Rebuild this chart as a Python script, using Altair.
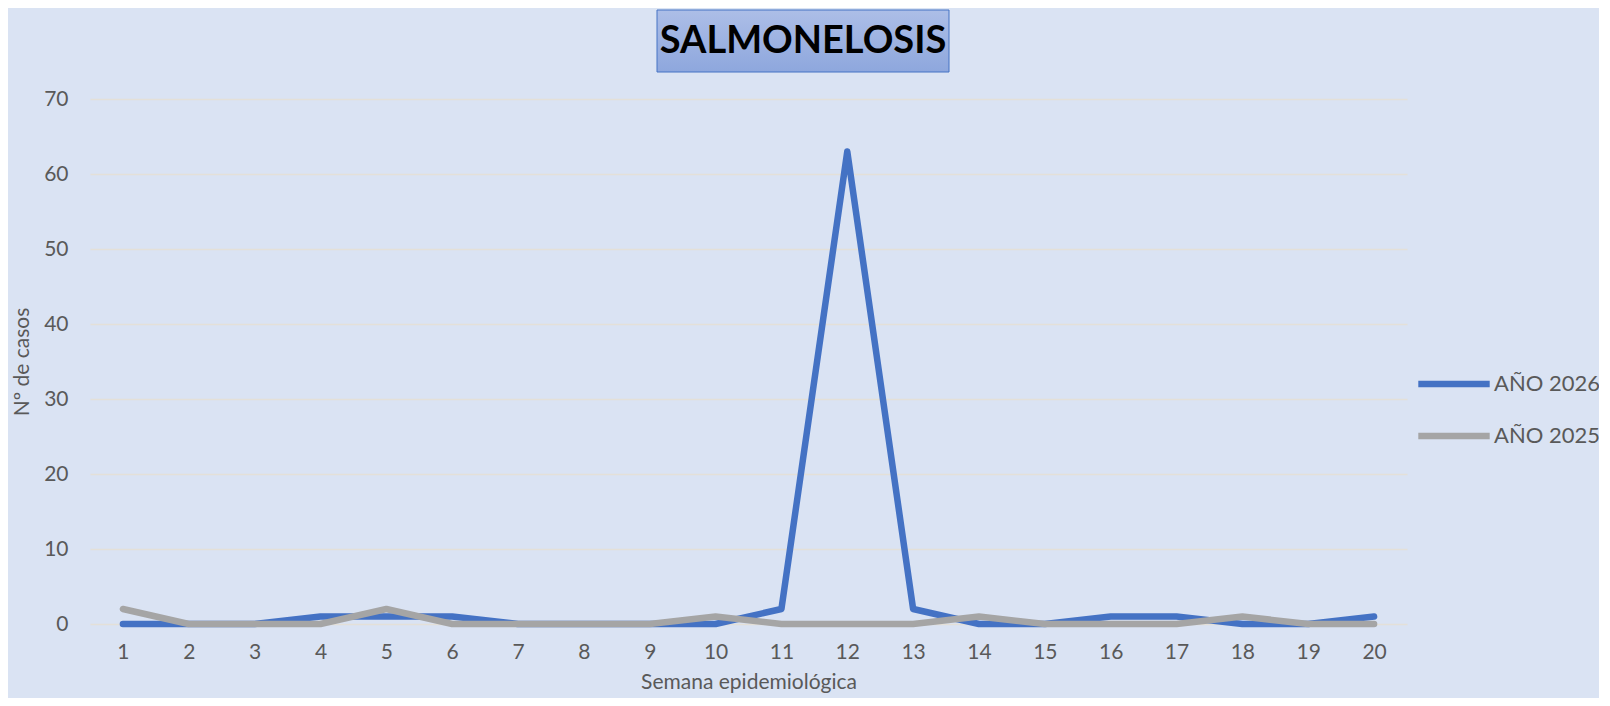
import altair as alt
import pandas as pd

semanas = list(range(1, 21))
anio_2026 = [0, 0, 0, 1, 1, 1, 0, 0, 0, 0, 2, 63, 2, 0, 0, 1, 1, 0, 0, 1]
anio_2025 = [2, 0, 0, 0, 2, 0, 0, 0, 0, 1, 0, 0, 0, 1, 0, 0, 0, 1, 0, 0]
series = ["AÑO 2026", "AÑO 2025"]
colores = ["#4472C4", "#A5A5A5"]
y_ticks = [0, 10, 20, 30, 40, 50, 60, 70]

df26 = pd.DataFrame({"Semana": semanas, "Casos": anio_2026, "Serie": series[0]})
df25 = pd.DataFrame({"Semana": semanas, "Casos": anio_2025, "Serie": series[1]})

FONT = "Lato"
GREY = "#595959"
W, H = 1317, 525

color = alt.Color(
    "Serie:N",
    scale=alt.Scale(domain=series, range=colores),
    legend=alt.Legend(
        title=None,
        orient="none",
        legendX=W + 8,
        legendY=246,
        symbolType="stroke",
        symbolStrokeWidth=6.5,
        symbolSize=5100,
        labelFontSize=22,
        labelColor=GREY,
        labelFont=FONT,
        rowPadding=-24,
        labelOffset=1,
    ),
)

x = alt.X(
    "Semana:O",
    scale=alt.Scale(type="point", padding=0.5),
    axis=alt.Axis(
        title="Semana epidemiológica",
        labelAngle=0,
        labelFontSize=21,
        labelColor=GREY,
        labelFont=FONT,
        labelPadding=17,
        titleFontSize=21,
        titleFont=FONT,
        titleColor=GREY,
        titleFontWeight="normal",
        titlePadding=9,
        ticks=False,
        domain=False,
        grid=False,
    ),
)
y = alt.Y(
    "Casos:Q",
    scale=alt.Scale(domain=[0, 70], nice=False),
    axis=alt.Axis(
        title="Nº de casos",
        values=y_ticks,
        labelFontSize=21,
        labelColor=GREY,
        labelFont=FONT,
        labelPadding=22,
        titleFontSize=21,
        titleFont=FONT,
        titleColor=GREY,
        titleFontWeight="normal",
        titlePadding=11,
        ticks=False,
        domain=False,
        gridColor="#E4E0D8",
        gridWidth=1.5,
    ),
)

line_kw = dict(strokeWidth=6.5, strokeCap="round", strokeJoin="round")
l26 = alt.Chart(df26).mark_line(**line_kw).encode(x=x, y=y, color=color)
l25 = alt.Chart(df25).mark_line(**line_kw).encode(x=x, y=y, color=color)

title_df = pd.DataFrame({"t": ["SALMONELOSIS"]})
box = alt.Chart(title_df).mark_rect(
    fill=alt.Gradient(
        gradient="linear",
        stops=[alt.GradientStop(color="#ADBEE7", offset=0),
               alt.GradientStop(color="#8EA7DD", offset=1)],
        x1=0, x2=0, y1=0, y2=1,
    ),
    stroke="#4472C4",
    strokeWidth=1,
).encode(x=alt.value(567), x2=alt.value(859), y=alt.value(-89), y2=alt.value(-27))
txt = alt.Chart(title_df).mark_text(
    font=FONT, fontSize=38, fontWeight="bold", color="#000000", baseline="middle", align="center"
).encode(text="t:N", x=alt.value(713), y=alt.value(-57))

chart = (
    alt.layer(l26, l25, box, txt)
    .properties(
        width=W,
        height=H,
        background="#DAE3F3",
        padding={"left": 82, "top": 91, "right": 192, "bottom": 74},
        autosize=alt.AutoSizeParams(type="none"),
    )
    .configure_view(stroke=None)
)

chart.save("out.html", embed_options={"renderer": "svg", "actions": False})
